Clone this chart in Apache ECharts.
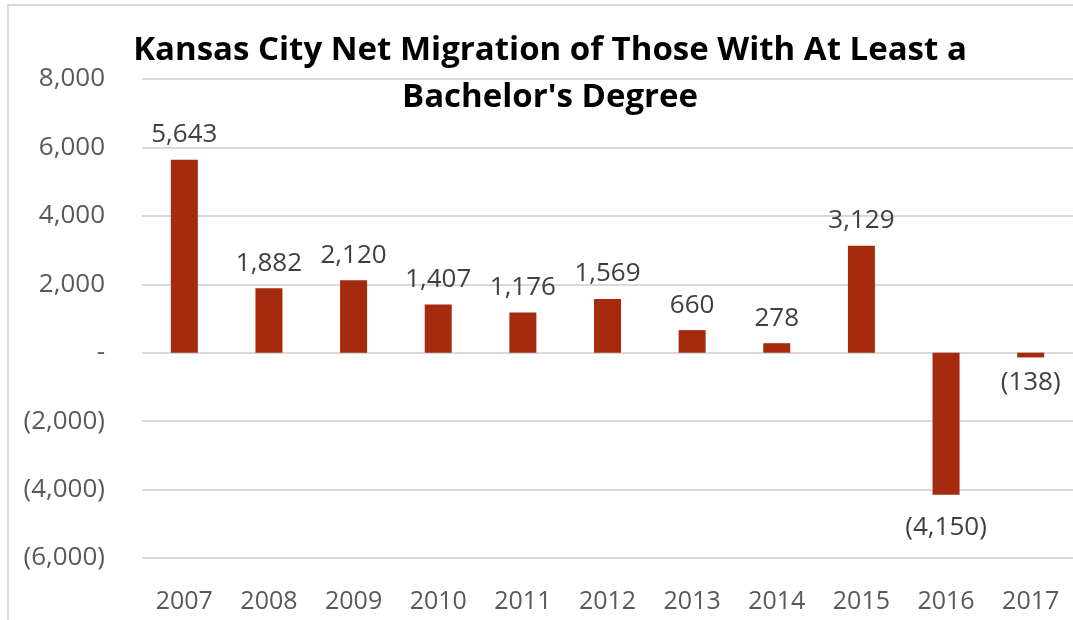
<!DOCTYPE html>
<html>
<head>
<meta charset="utf-8">
<title>Kansas City Net Migration</title>
<script src="https://cdn.jsdelivr.net/npm/echarts@6/dist/echarts.min.js"></script>
<style>
  html, body { margin: 0; padding: 0; background: #fff; }
  #chart { width: 1073px; height: 620px; }
</style>
</head>
<body>
<div id="chart"></div>
<script>
// 数据
var years = ['2007', '2008', '2009', '2010', '2011', '2012', '2013', '2014', '2015', '2016', '2017'];
var netMigration = [5643, 1882, 2120, 1407, 1176, 1569, 660, 278, 3129, -4150, -138];

// 会计格式: 负数加括号, 0 显示为 -
function fmt(v) {
    if (v === 0) return '-';
    var s = Math.abs(v).toString().replace(/\B(?=(\d{3})+(?!\d))/g, ',');
    return v < 0 ? '(' + s + ')' : s;
}

// 大的负值标签离柱子远一点
var barData = netMigration.map(function (v) {
    return v < -1000 ? { value: v, label: { distance: 20 } } : v;
});

var chart = echarts.init(document.getElementById('chart'));
chart.setOption({
    animation: false,
    textStyle: { fontFamily: 'Open Sans' },
    title: {
        text: 'Kansas City Net Migration of Those With At Least a\nBachelor\'s Degree',
        left: 545,
        top: 22,
        textAlign: 'center',
        textStyle: {
            fontFamily: 'Open Sans',
            fontWeight: 'bold',
            fontSize: 33,
            lineHeight: 47,
            color: '#000'
        }
    },
    graphic: [{
        type: 'rect',
        shape: { x: 8, y: 5, width: 1100, height: 700 },
        style: { fill: 'none', stroke: '#d9d9d9', lineWidth: 2 },
        silent: true
    }],
    grid: { left: 142, right: -6, top: 79, bottom: 62 },
    xAxis: {
        type: 'category',
        data: years,
        axisLine: { show: false },
        axisTick: { show: false },
        axisLabel: { color: '#595959', fontSize: 25, margin: 31 }
    },
    yAxis: {
        type: 'value',
        min: -6000,
        max: 8000,
        interval: 2000,
        axisLine: { show: false },
        axisTick: { show: false },
        splitLine: { lineStyle: { color: '#d9d9d9', width: 2 } },
        axisLabel: {
            color: '#595959',
            fontSize: 26,
            margin: 37,
            formatter: fmt
        }
    },
    series: [{
        type: 'bar',
        data: barData,
        barWidth: 27,
        itemStyle: { color: '#a52a0e' },
        label: {
            show: true,
            position: 'outside',
            distance: 12,
            color: '#404040',
            fontSize: 26,
            formatter: function (p) { return fmt(p.value); }
        }
    }]
});
</script>
</body>
</html>
